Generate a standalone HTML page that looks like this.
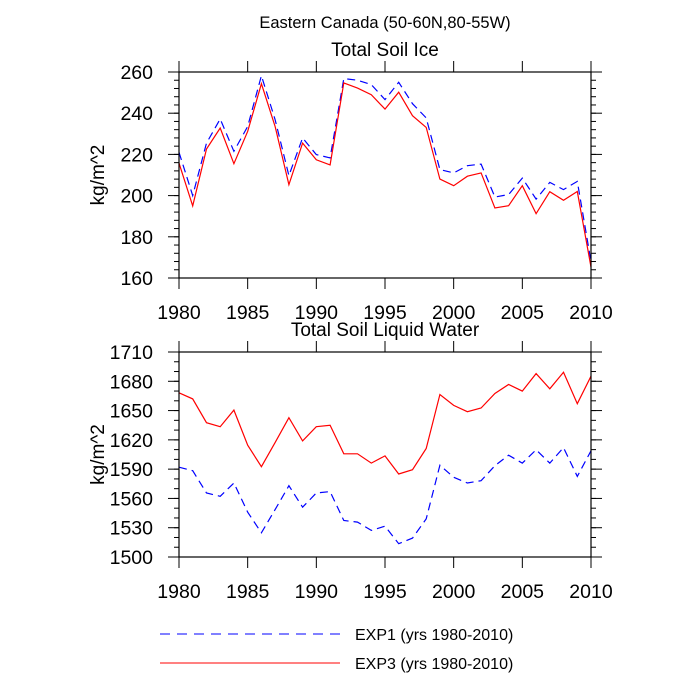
<!DOCTYPE html>
<html><head><meta charset="utf-8"><style>
body{margin:0;background:#fff}
svg{display:block;font-family:"Liberation Sans",sans-serif}
</style></head><body>
<svg id="c" width="700" height="700" viewBox="0 0 700 700">
<text x="385" y="28" font-size="16.5" text-anchor="middle">Eastern Canada (50-60N,80-55W)</text>
<g id="g1"></g>
<g id="g2"></g>
<g>
<line x1="160" y1="634" x2="340" y2="634" stroke="#00f" stroke-dasharray="10,7"/>
<text x="355" y="640" font-size="16">EXP1 (yrs 1980-2010)</text>
<line x1="160" y1="663" x2="340" y2="663" stroke="#f00"/>
<text x="355" y="669" font-size="16">EXP3 (yrs 1980-2010)</text>
</g>
</svg>
<script>
const years=[];for(let y=1980;y<=2010;y++)years.push(y);
const xTicks=[1980,1985,1990,1995,2000,2005,2010];
const iceExp3=[215.8,195,222.6,232.8,215.5,231.2,254.3,233.6,205.3,225.5,217.4,214.9,254.7,252.2,249,242,250.2,238.8,233.1,208,204.8,209.4,211,194,195.1,204.8,191.2,201.9,197.7,202,165.3];
const iceExp1=[221,200,225.5,237.2,221.5,233.6,258.2,236.9,209.7,228,219.9,218.3,256.8,256,253.9,246.6,255,244.6,237.7,212.6,211,214.5,215.3,199.3,200.5,208.5,198.3,206.4,202.9,206.9,168];
const iceTicks=[160,180,200,220,240,260];
const liqExp3=[1668.2,1662,1637.6,1633.5,1650.5,1614.5,1592.5,1617.2,1642.7,1618.9,1633.5,1634.9,1605.7,1605.7,1596.2,1603.6,1585,1589.4,1611.1,1666.5,1655.3,1648.8,1652.6,1667.5,1676.7,1669.9,1687.9,1672.3,1689.3,1657,1685.2];
const liqExp1=[1592,1588.4,1565.6,1562.2,1575.8,1545.9,1524.8,1548.6,1573,1551,1565.6,1567,1537.4,1535.7,1527.2,1531.6,1513.6,1519.4,1539,1594,1581.6,1575.8,1578.2,1593.5,1604.3,1596.2,1609.8,1596.2,1612.1,1582.6,1608.8];
const liqTicks=[1500,1530,1560,1590,1620,1650,1680,1710];
const NS='http://www.w3.org/2000/svg';
function mk(p,t,a){const e=document.createElementNS(NS,t);for(const k in a)e.setAttribute(k,a[k]);p.appendChild(e);return e;}
function panel(g,top,bot,title,yt,minorStep,s1,s3){
 const L=179,R=591,x0=1980,x1=2010,y0=yt[0],y1=yt[yt.length-1];
 const X=v=>L+(v-x0)/(x1-x0)*(R-L), Y=v=>bot-(v-y0)/(y1-y0)*(bot-top);
 let t=mk(g,'text',{x:385,y:top-16,'font-size':19,'text-anchor':'middle'});t.textContent=title;
 
 
 for(let v=y0;v<=y1+1e-9;v+=minorStep){const y=Y(v);mk(g,'line',{x1:L-5,y1:y,x2:L,y2:y,stroke:'#000'});mk(g,'line',{x1:R,y1:y,x2:R+5,y2:y,stroke:'#000'});}
 yt.forEach(v=>{const y=Y(v);mk(g,'line',{x1:L-11,y1:y,x2:L,y2:y,stroke:'#000'});mk(g,'line',{x1:R,y1:y,x2:R+11,y2:y,stroke:'#000'});
  const l=mk(g,'text',{x:L-26,y:y+7,'font-size':19.5,'text-anchor':'end'});l.textContent=v;
  
  });
 xTicks.forEach(v=>{const x=X(v);mk(g,'line',{x1:x,y1:bot,x2:x,y2:bot+11,stroke:'#000'});mk(g,'line',{x1:x,y1:top-11,x2:x,y2:top,stroke:'#000'});
  const l=mk(g,'text',{x:x,y:bot+41,'font-size':19.5,'text-anchor':'middle'});l.textContent=v;
  
  });
 const yl=mk(g,'text',{x:0,y:0,'font-size':19,'text-anchor':'middle',transform:`translate(104,${(top+bot)/2}) rotate(-90)`});yl.textContent='kg/m^2';
 
 
 const pts=s=>s.map((v,i)=>X(years[i]).toFixed(1)+','+Y(v).toFixed(1)).join(' ');
 const b=mk(g,'polyline',{points:pts(s1),fill:'none',stroke:'#00f','stroke-width':1.2,'stroke-dasharray':'8,5'});
 
 
 const r=mk(g,'polyline',{points:pts(s3),fill:'none',stroke:'#f00','stroke-width':1.2});
 
 
 const f=mk(g,'rect',{x:L,y:top,width:R-L,height:bot-top,fill:'none',stroke:'#000','stroke-width':1.2});
 
 
}
panel(document.getElementById('g1'),72,278,'Total Soil Ice',iceTicks,4,iceExp1,iceExp3);
panel(document.getElementById('g2'),352,557,'Total Soil Liquid Water',liqTicks,10,liqExp1,liqExp3);
</script>
</body></html>
